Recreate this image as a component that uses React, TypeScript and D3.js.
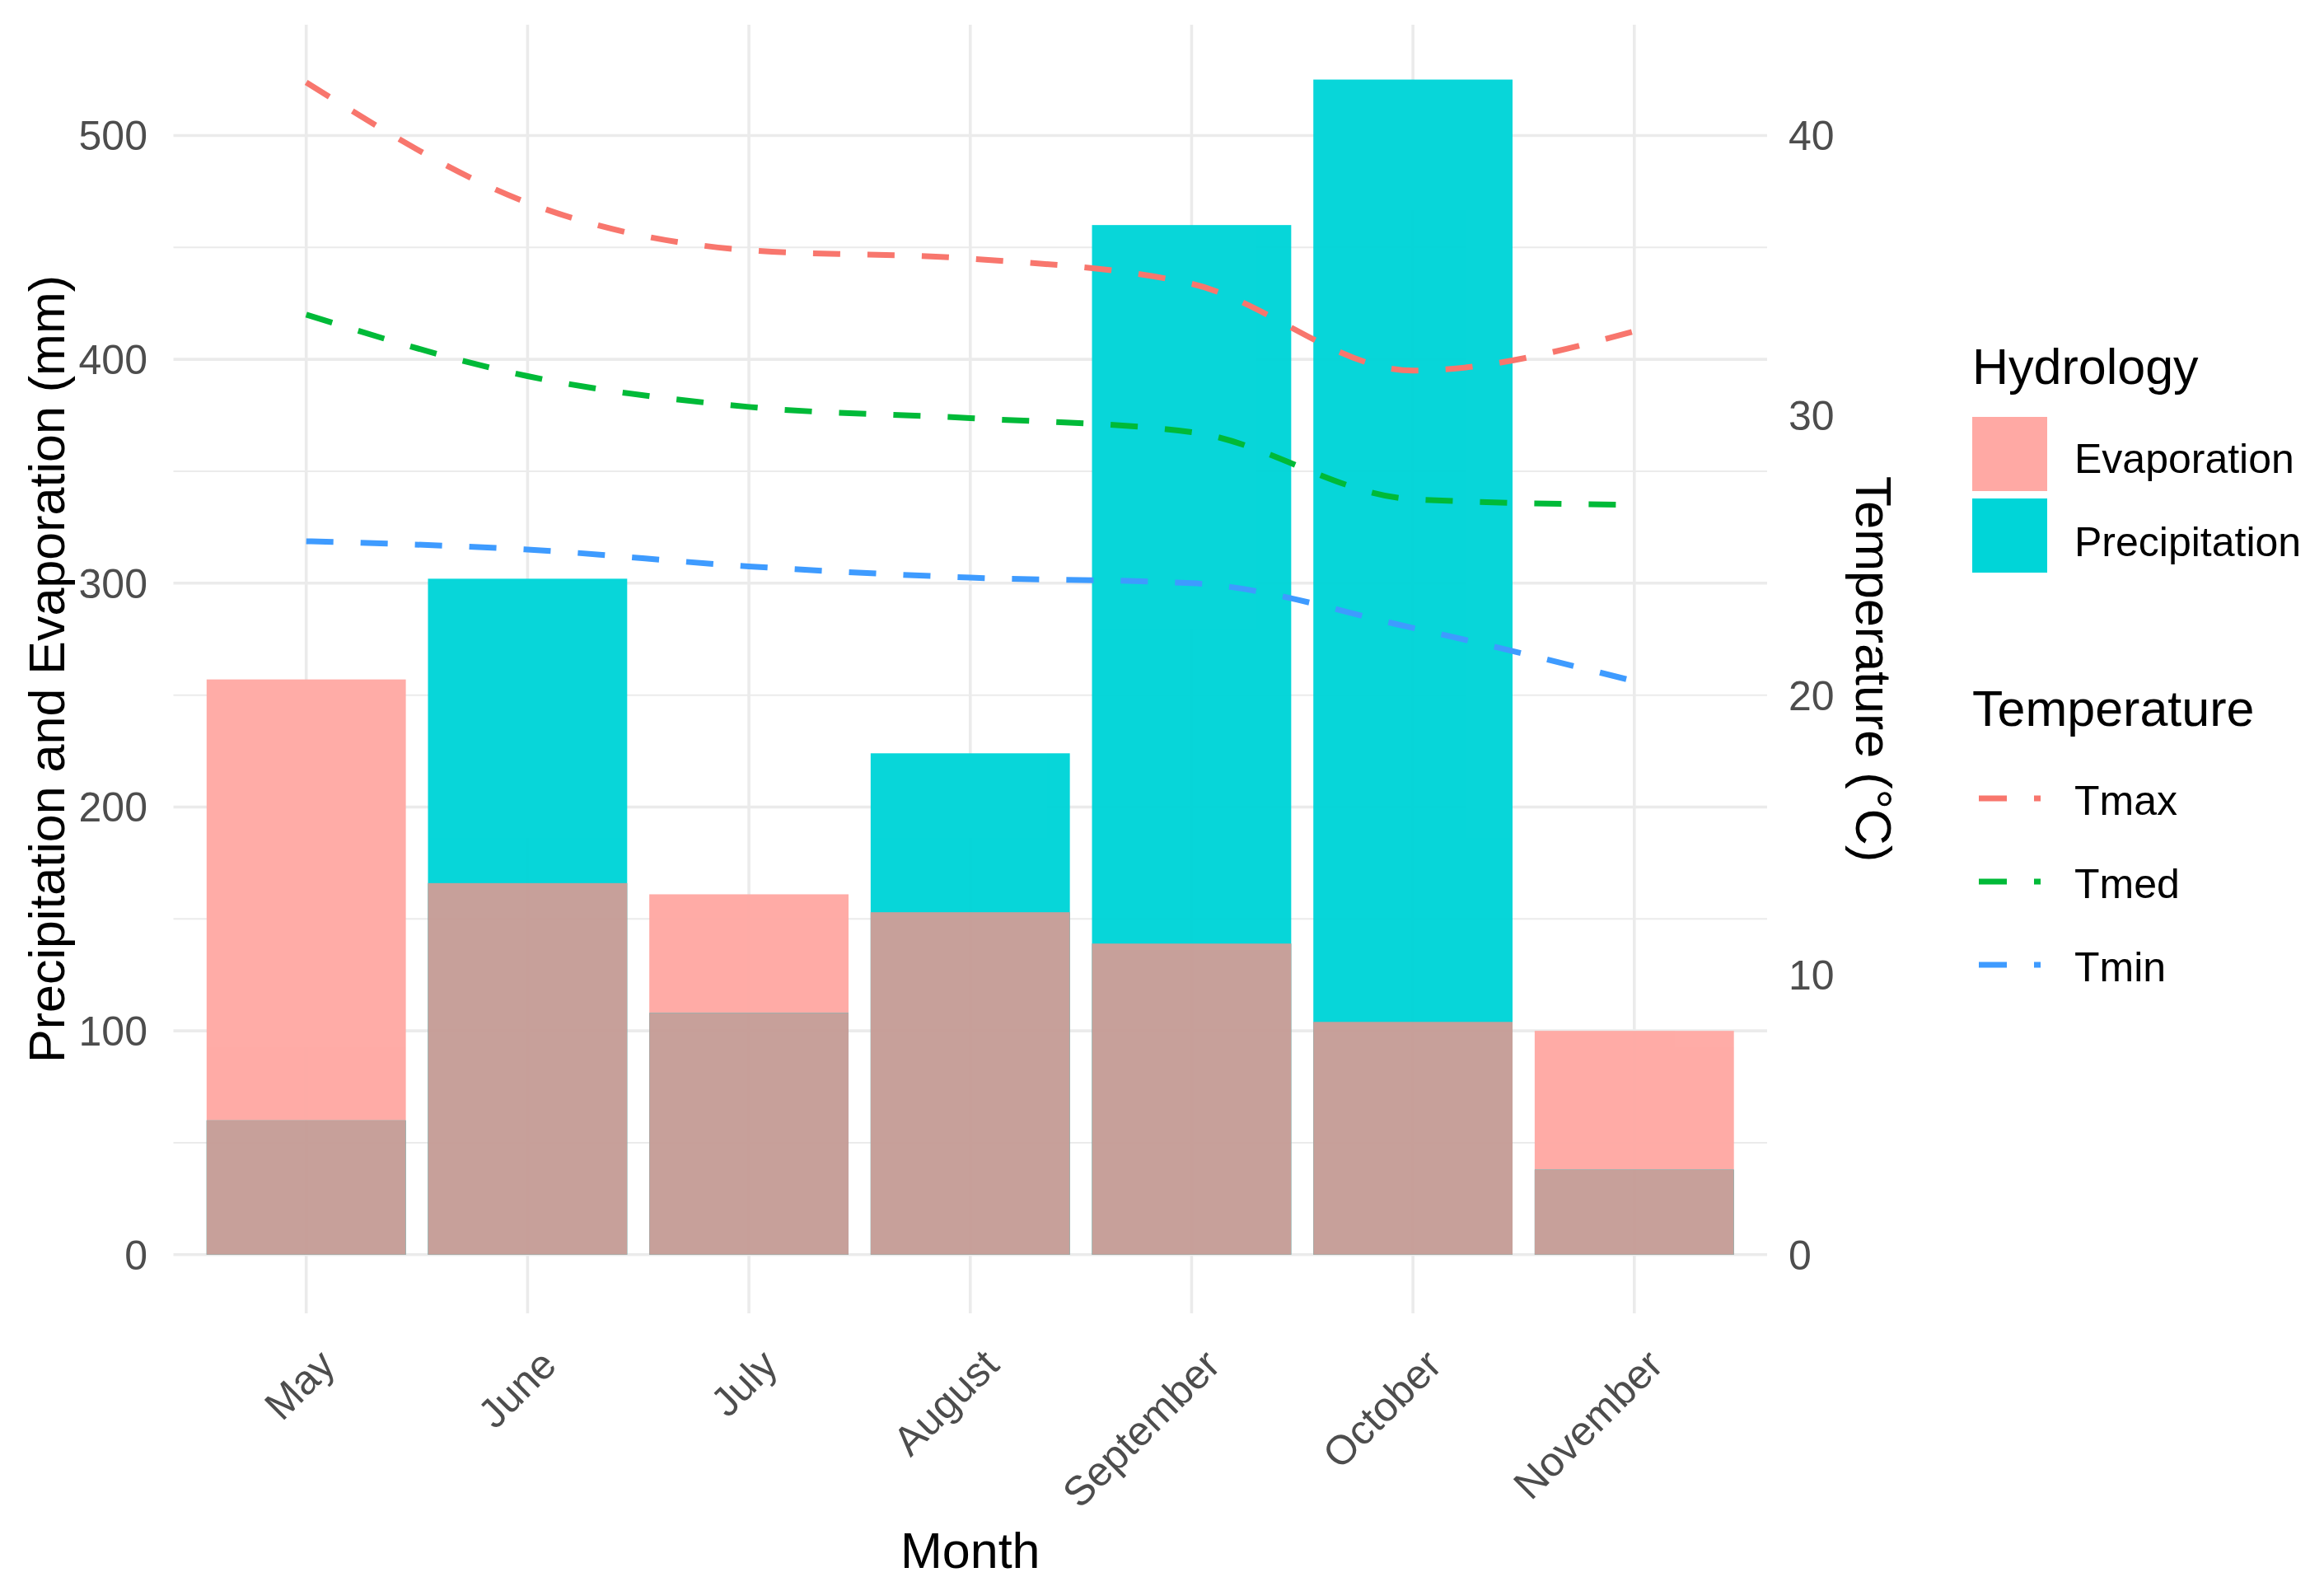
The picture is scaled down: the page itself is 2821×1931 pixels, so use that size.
import * as d3 from 'd3';

// Monthly hydrology (mm) and temperature (°C)
const months = ['May', 'June', 'July', 'August', 'September', 'October', 'November'];
const evaporation = [257, 166, 161, 153, 139, 104, 100];
const precipitation = [60, 302, 108, 224, 460, 525, 38];
const tmax = [41.9, 37.6, 35.9, 35.6, 34.7, 31.6, 33.0];
const tmed = [33.6, 31.4, 30.3, 29.9, 29.4, 27.0, 26.8];
const tmin = [25.5, 25.2, 24.6, 24.2, 24.0, 22.4, 20.5];

const mmTicks = [0, 100, 200, 300, 400, 500];
const mmMinor = [50, 150, 250, 350, 450];
const tempTicks = [0, 10, 20, 30, 40];
const tempFactor = 12.5;

const W = 2821;
const H = 1931;
const panel = { left: 210.5, right: 2145, top: 30, bottom: 1594 };

const colors = {
    evap: '#FFA9A4',
    precip: '#00D5D8',
    overlap: '#C69D97',
    grid: '#EBEBEB',
    axisText: '#4D4D4D',
};

const tempSeries = [
    { name: 'Tmax', values: tmax, color: '#F8766D' },
    { name: 'Tmed', values: tmed, color: '#00BA38' },
    { name: 'Tmin', values: tmin, color: '#3E9BFF' },
];

const FONT = '"Liberation Sans", Arial, sans-serif';

export default function App() {
    const x = d3.scaleBand<string>()
        .domain(months)
        .range([panel.left, panel.right])
        .paddingInner(0.1)
        .paddingOuter(0.15);
    const bw = x.bandwidth();
    const cx = (m: string) => (x(m) || 0) + bw / 2;

    const y = d3.scaleLinear().domain([-26.2, 549.5]).range([panel.bottom, panel.top]);
    const yT = d3.scaleLinear()
        .domain([-26.2 / tempFactor, 549.5 / tempFactor])
        .range([panel.bottom, panel.top]);

    const line = d3.line<number>()
        .x((_, i) => cx(months[i]))
        .y(d => yT(d))
        .curve(d3.curveMonotoneX);

    const legendX = 2394;

    return (
        <svg width={W} height={H} style={{ position: 'absolute', left: 0, top: 0, background: '#fff' }}
            fontFamily={FONT}>
            {/* grid */}
            {mmMinor.map(v => (
                <line key={'mi' + v} x1={panel.left} x2={panel.right} y1={y(v)} y2={y(v)}
                    stroke={colors.grid} strokeWidth={2} />
            ))}
            {mmTicks.map(v => (
                <line key={'ma' + v} x1={panel.left} x2={panel.right} y1={y(v)} y2={y(v)}
                    stroke={colors.grid} strokeWidth={3.6} />
            ))}
            {months.map(m => (
                <line key={'v' + m} x1={cx(m)} x2={cx(m)} y1={panel.top} y2={panel.bottom}
                    stroke={colors.grid} strokeWidth={3.6} />
            ))}

            {/* bars */}
            <g opacity={0.97}>
                {months.map((m, i) => (
                    <rect key={'e' + m} x={x(m)} width={bw} y={y(evaporation[i])}
                        height={y(0) - y(evaporation[i])} fill={colors.evap} />
                ))}
                {months.map((m, i) => (
                    <rect key={'p' + m} x={x(m)} width={bw} y={y(precipitation[i])}
                        height={y(0) - y(precipitation[i])} fill={colors.precip} />
                ))}
                {months.map((m, i) => {
                    const v = Math.min(evaporation[i], precipitation[i]);
                    return (
                        <rect key={'o' + m} x={x(m)} width={bw} y={y(v)}
                            height={y(0) - y(v)} fill={colors.overlap} />
                    );
                })}
            </g>

            {/* temperature lines */}
            {tempSeries.map(s => (
                <path key={s.name} d={line(s.values) || ''} fill="none" stroke={s.color}
                    strokeWidth={7} strokeDasharray="33 33" />
            ))}

            {/* left axis */}
            {mmTicks.map(v => (
                <text key={'lt' + v} x={179} y={y(v)} dy="0.36em" textAnchor="end"
                    fontSize={50} fill={colors.axisText}>{v}</text>
            ))}
            <text transform={`translate(78,${(panel.top + panel.bottom) / 2}) rotate(-90)`}
                textAnchor="middle" fontSize={61} fill="#000">
                Precipitation and Evaporation (mm)
            </text>

            {/* right axis */}
            {tempTicks.map(v => (
                <text key={'rt' + v} x={2171} y={yT(v)} dy="0.36em" textAnchor="start"
                    fontSize={50} fill={colors.axisText}>{v}</text>
            ))}
            <text transform={`translate(2253,${(panel.top + panel.bottom) / 2}) rotate(90)`}
                textAnchor="middle" fontSize={61} fill="#000">
                Temperature (°C)
            </text>

            {/* x axis */}
            {months.map(m => (
                <text key={'xt' + m} transform={`translate(${cx(m) + 12},1634) rotate(-45)`}
                    textAnchor="end" dy="0.72em" fontSize={50} fill={colors.axisText}>{m}</text>
            ))}
            <text x={(panel.left + panel.right) / 2} y={1903} textAnchor="middle" fontSize={61} fill="#000">
                Month
            </text>

            {/* legend: Hydrology */}
            <text x={legendX} y={466} fontSize={61} fill="#000">Hydrology</text>
            {[
                { label: 'Evaporation', color: colors.evap },
                { label: 'Precipitation', color: colors.precip },
            ].map((d, i) => (
                <g key={d.label}>
                    <rect x={legendX} y={506 + i * 99} width={91} height={90} fill={d.color} />
                    <text x={2518} y={556 + i * 101} dy="0.36em" fontSize={50} fill="#000">{d.label}</text>
                </g>
            ))}

            {/* legend: Temperature */}
            <text x={legendX} y={881} fontSize={61} fill="#000">Temperature</text>
            {tempSeries.map((s, i) => (
                <g key={'lg' + s.name}>
                    <line x1={2402} x2={2477} y1={969 + i * 101} y2={969 + i * 101}
                        stroke={s.color} strokeWidth={7} strokeDasharray="34 33" />
                    <text x={2518} y={971 + i * 101} dy="0.36em" fontSize={50} fill="#000">{s.name}</text>
                </g>
            ))}
        </svg>
    );
}
